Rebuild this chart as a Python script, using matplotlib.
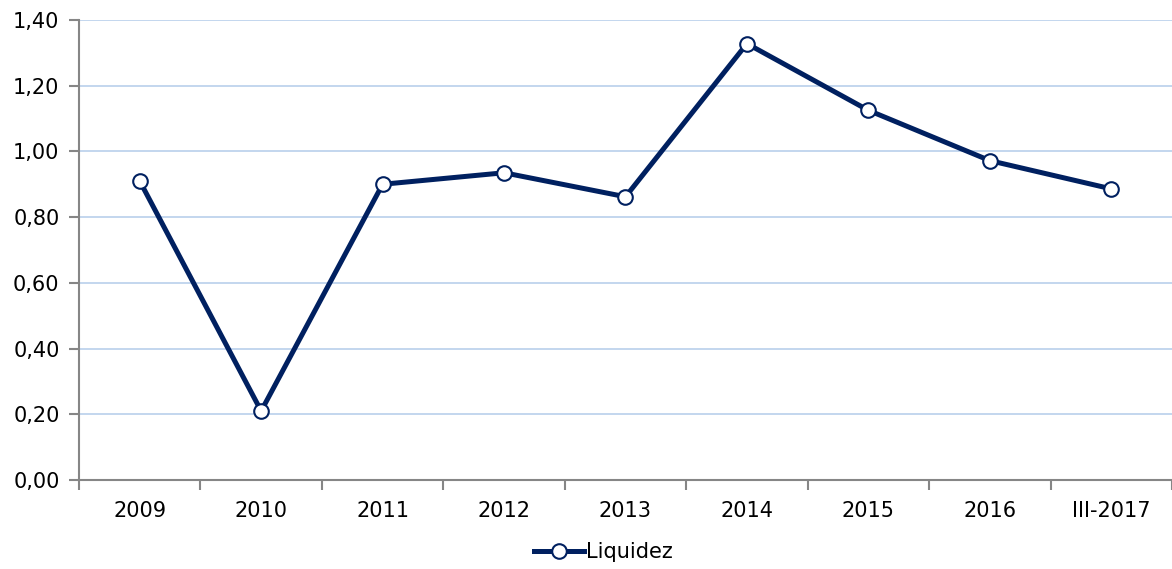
import matplotlib.pyplot as plt
from matplotlib.ticker import FixedLocator, FuncFormatter

# data
years = ["2009", "2010", "2011", "2012", "2013", "2014", "2015", "2016", "III-2017"]
liquidez = [0.91, 0.21, 0.90, 0.935, 0.862, 1.328, 1.125, 0.972, 0.886]

navy = "#002060"
grid_col = "#c3d6ee"
spine_col = "#868686"

fig = plt.figure(figsize=(11.72, 5.69), dpi=100)
ax = fig.add_axes([0.0674, 0.1564, 0.9326, 0.8085])

x = list(range(len(years)))
ax.plot(x, liquidez, color=navy, lw=3.6, marker="o", markersize=10.5,
        markerfacecolor="white", markeredgecolor=navy, markeredgewidth=1.5,
        label="Liquidez", zorder=3, clip_on=False)

ax.set_xlim(-0.5, len(years) - 0.5)
ax.set_ylim(0, 1.4)
ax.set_yticks([0, 0.2, 0.4, 0.6, 0.8, 1.0, 1.2, 1.4])
ax.yaxis.set_major_formatter(FuncFormatter(lambda v, p: f"{v:.2f}".replace(".", ",")))
ax.grid(axis="y", color=grid_col, lw=1.4)
ax.set_axisbelow(True)

ax.set_xticks(x)
ax.set_xticklabels(years)
ax.xaxis.set_minor_locator(FixedLocator([i - 0.5 for i in range(len(years) + 1)]))
ax.tick_params(axis="x", which="major", length=0, pad=15, labelsize=15)
ax.tick_params(axis="x", which="minor", length=7, color=spine_col, width=1.5)
ax.tick_params(axis="y", length=7, color=spine_col, width=1.5, labelsize=15, pad=7)

for s in ["top", "right"]:
    ax.spines[s].set_visible(False)
for s in ["left", "bottom"]:
    ax.spines[s].set_color(spine_col)
    ax.spines[s].set_linewidth(1.5)

fig.legend(loc="center", bbox_to_anchor=(0.515, 0.03), frameon=False,
           fontsize=15, handlelength=2.4, handletextpad=0.1)

fig.savefig("out.png", dpi=100)
